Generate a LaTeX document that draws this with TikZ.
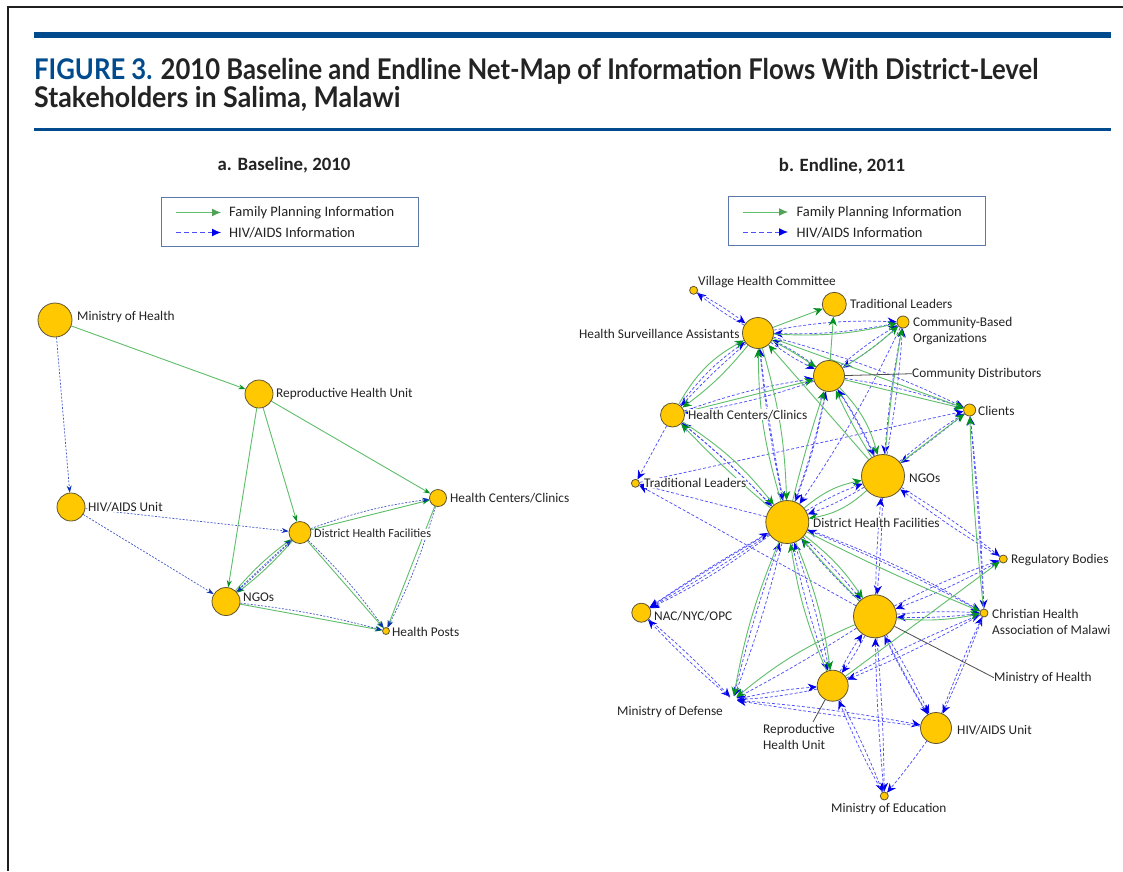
\documentclass[tikz,border=0pt]{standalone}
\usepackage{fontspec}
\setmainfont{Carlito}
\newfontfamily\titlefont[FakeStretch=0.9]{Lato}
\newfontfamily\titlefontb[FakeStretch=0.94]{Lato}
\usetikzlibrary{arrows.meta,backgrounds}
\definecolor{barblue}{RGB}{0,75,141}
\definecolor{nodeyellow}{RGB}{255,200,0}
\definecolor{noderim}{RGB}{95,85,50}
\definecolor{gline}{RGB}{95,190,105}
\definecolor{gtip}{RGB}{0,145,30}
\definecolor{bline}{RGB}{80,80,250}
\definecolor{btip}{RGB}{0,0,235}
\definecolor{bdark}{RGB}{70,90,200}
\definecolor{btipd}{RGB}{10,50,180}
\definecolor{txt}{RGB}{35,35,35}
\definecolor{boxrim}{RGB}{90,120,170}
\tikzset{
 dot/.style={circle,fill=nodeyellow,draw=noderim,line width=.8pt,inner sep=0pt,minimum size=#1 pt},
 lab/.style={anchor=west,inner xsep=0pt,inner ysep=.5pt,fill=white,text=txt,yshift=-.7pt,font=\fontsize{13.3}{15}\selectfont},
 ghead/.style={font=\fontsize{18.8}{20}\selectfont\bfseries,text=txt,inner sep=0pt},
 ge/.style={gline,line width=.9pt,-{Stealth[length=9pt,width=8pt,color=gtip]}},
 be/.style={bline,line width=.75pt,dash pattern=on 3pt off 2pt,-{Stealth[length=9pt,width=8pt,color=btip]}},
 gs/.style={gline,line width=.9pt,-{Stealth[length=7pt,width=5pt,color=gtip]}},
 bs/.style={bdark,line width=.7pt,dash pattern=on 2pt off 1.5pt,-{Stealth[length=7pt,width=5pt,color=btipd]}},
 lg/.style={gline,line width=1pt,-{Latex[length=9pt,width=8pt,color=gline!85!black]}},
 lb/.style={bline,line width=1pt,dash pattern=on 5pt off 3pt,-{Latex[length=9pt,width=8pt,color=btip]}},
 lead/.style={draw=black!70,line width=.8pt},
 legbox/.style={draw=boxrim,line width=1pt,fill=white},
 legtxt/.style={anchor=west,inner sep=0pt,text=txt,yshift=-.7pt,font=\fontsize{14.5}{15}\selectfont}
}
\begin{document}
\begin{tikzpicture}[x=1pt,y=-1pt]
\useasboundingbox (0,0) rectangle (1123,871);
% frame and bars
\fill[black!88] (6.5,5.5) rectangle (1123,7.8);
\fill[black!88] (6.8,5.5) rectangle (9,871);
\fill[barblue] (34,32) rectangle (1111,38);
\fill[barblue] (34,128) rectangle (1111,131);
% title
\node[anchor=base west,inner sep=0pt,text=txt,font=\titlefont\fontsize{28.5}{30}\selectfont\bfseries] (title1) at (34,79) {\textcolor{barblue}{FIGURE 3.} 2010 Baseline and Endline Net-Map of Information Flows With District-Level};
\node[anchor=base west,inner sep=0pt,text=txt,font=\titlefontb\fontsize{28.5}{30}\selectfont\bfseries] (title2) at (34,107) {Stakeholders in Salima, Malawi};
\node[ghead] (heada) at (284,165) {a. Baseline, 2010};
\node[ghead] (headb) at (842,166) {b. Endline, 2011};
% legends
\node[legbox,minimum width=257pt,minimum height=49pt,inner sep=0pt] (lega) at (290,221.5) {};
\node[legbox,minimum width=257pt,minimum height=49pt,inner sep=0pt] (legb) at (857,220.5) {};
\coordinate (la1) at (176,212.5); \coordinate (la2) at (221,212.5);
\coordinate (la3) at (176,232.5); \coordinate (la4) at (221,232.5);
\coordinate (lb1) at (743,212); \coordinate (lb2) at (788,212);
\coordinate (lb3) at (743,232); \coordinate (lb4) at (788,232);
\draw[lg] (la1) -- (la2);
\draw[lb] (la3) -- (la4);
\draw[lg] (lb1) -- (lb2);
\draw[lb] (lb3) -- (lb4);
\node[legtxt] (lat1) at (229,212.5) {Family Planning Information};
\node[legtxt] (lat2) at (229,232.5) {HIV/AIDS Information};
\node[legtxt] (lbt1) at (796.5,212) {Family Planning Information};
\node[legtxt] (lbt2) at (796.5,232) {HIV/AIDS Information};
% ---------- left network nodes
\node[dot=34] (aMOH) at (55,320) {};
\node[dot=28] (aRHU) at (259,394) {};
\node[dot=28] (aHIV) at (71,507) {};
\node[dot=17] (aHCC) at (438,498) {};
\node[dot=22] (aDHF) at (300,532.5) {};
\node[dot=28] (aNGO) at (226,601.5) {};
\node[dot=7] (aHP) at (386,631) {};
\node[lab] (alMOH) at (77,316) {Ministry of Health};
\node[lab] (alRHU) at (276,393) {Reproductive Health Unit};
\node[lab] (alHIV) at (88,506) {HIV/AIDS Unit};
\node[lab] (alHCC) at (450,497) {Health Centers/Clinics};
\node[lab,font=\fontsize{12.3}{15}\selectfont] (alDHF) at (314,533) {District Health Facilities};
\node[lab] (alNGO) at (243,597) {NGOs};
\node[lab] (alHP) at (392,631) {Health Posts};
% ---------- right network nodes
\node[dot=8] (rVHC) at (693.6,290.3) {};
\node[dot=24] (rTLT) at (834.3,304.3) {};
\node[dot=12] (rCBO) at (903,322) {};
\node[dot=31] (rHSA) at (758,333) {};
\node[dot=31] (rCD) at (829,376) {};
\node[dot=24] (rHCC) at (672.5,415) {};
\node[dot=12] (rCLI) at (969.6,410) {};
\node[dot=8] (rTLL) at (635.4,483.3) {};
\node[dot=43] (rNGO) at (883,476) {};
\node[dot=43] (rDHF) at (787.3,522) {};
\node[dot=8] (rREG) at (1003.3,559) {};
\node[dot=19] (rNAC) at (641.3,612.7) {};
\node[dot=8] (rCHA) at (984,613) {};
\node[dot=43] (rMOH) at (875,616.3) {};
\node[circle,inner sep=0pt,minimum size=8pt] (rDEF) at (733,700) {};
\node[dot=31] (rRHU) at (832.7,685.7) {};
\node[dot=31] (rHIV) at (936,728) {};
\node[dot=8] (rEDU) at (884.3,796) {};
\node[lab] (rlVHC) at (698,281) {Village Health Committee};
\node[lab] (rlTLT) at (850,303) {Traditional Leaders};
\node[lab] (rlCBO) at (913,322) {Community-Based};
\node[lab] (rlCBOb) at (913,338) {Organizations};
\node[lab] (rlHSA) at (579,333) {Health Surveillance Assistants};
\node[lab] (rlCD) at (912,373) {Community Distributors};
\node[lab] (rlCLI) at (978,410) {Clients};
\node[lab] (rlHCC) at (688,414) {Health Centers/Clinics};
\node[lab] (rlTLL) at (644,482) {Traditional Leaders};
\node[lab] (rlNGO) at (909,478) {NGOs};
\node[lab] (rlDHF) at (813,522) {District Health Facilities};
\node[lab] (rlREG) at (1011,559) {Regulatory Bodies};
\node[lab] (rlNAC) at (654,615) {NAC/NYC/OPC};
\node[lab] (rlCHA) at (992,613) {Christian Health};
\node[lab] (rlCHAb) at (992,629) {Association of Malawi};
\node[lab] (rlMOH) at (994,677) {Ministry of Health};
\node[lab] (rlDEF) at (617,711) {Ministry of Defense};
\node[lab] (rlRHU) at (763,729) {Reproductive};
\node[lab] (rlRHUb) at (763,744) {Health Unit};
\node[lab] (rlHIV) at (957,729) {HIV/AIDS Unit};
\node[lab] (rlEDU) at (831,808) {Ministry of Education};
\coordinate (rRHUend) at (813,722);
\begin{scope}[on background layer]
\fill[white] (0,0) rectangle (1123,871);
% left edges
\foreach \p/\q/\c in {aMOH/aRHU/0,aRHU/aHCC/0,aRHU/aDHF/0,aRHU/aNGO/0,aDHF/aHCC/0,aDHF/aNGO/5,aNGO/aDHF/6,aDHF/aHP/0,aNGO/aHP/0,aHCC/aHP/0}
  \draw[gs] (\p) to[bend left=\c] (\q);
\foreach \p/\q/\c in {aMOH/aHIV/0,aHIV/aDHF/0,aHIV/aNGO/0,aDHF/aHCC/6,aNGO/aDHF/1,aDHF/aNGO/1,aDHF/aHP/5,aNGO/aHP/4,aHCC/aHP/5}
  \draw[bs] (\p) to[bend left=\c] (\q);
% right blue edges
\foreach \p/\q/\c in {rHSA/rVHC/4,rVHC/rHSA/4,rHSA/rCBO/6,rCBO/rHSA/6,rCD/rCBO/5,rCBO/rCD/5,rNGO/rCBO/-3,rCBO/rNGO/-3,rHSA/rCD/-5,rCD/rHSA/-5,rHSA/rHCC/-3,rHCC/rHSA/9,rHSA/rDHF/-3,rDHF/rHSA/2,rHCC/rCD/5,rCD/rHCC/5,rHCC/rDHF/3,rDHF/rHCC/-3,rHCC/rTLL/0,rCD/rDHF/5,rDHF/rCD/-4,rCD/rNGO/5,rNGO/rCD/-4,rCD/rCLI/5,rCBO/rDHF/4,rHSA/rCLI/5,rDHF/rTLL/0,rMOH/rTLL/0,rTLL/rCLI/0,rDHF/rNGO/5,rNGO/rDHF/5,rNGO/rCLI/4,rCLI/rNGO/1,rNGO/rMOH/2,rMOH/rNGO/2,rNGO/rREG/3,rREG/rNGO/3,rDHF/rCHA/5,rCHA/rDHF/-3,rCHA/rCLI/-1,rCLI/rCHA/2,rDHF/rNAC/2,rNAC/rDHF/2,rDHF/rNAC/-1,rDHF/rNAC/5,rNAC/rDEF/3,rDEF/rNAC/3,rDHF/rDEF/3,rDEF/rDHF/3,rDHF/rRHU/-3,rRHU/rDHF/-3,rDHF/rMOH/3,rMOH/rDHF/3,rMOH/rREG/4,rREG/rMOH/4,rMOH/rCHA/4,rCHA/rMOH/4,rMOH/rRHU/4,rRHU/rMOH/4,rMOH/rHIV/3,rHIV/rMOH/3,rMOH/rHIV/-2,rMOH/rEDU/2,rEDU/rMOH/2,rMOH/rDEF/2,rRHU/rDEF/4,rDEF/rRHU/4,rRHU/rCHA/3,rCHA/rRHU/3,rRHU/rEDU/3,rEDU/rRHU/3,rHIV/rCHA/2,rCHA/rHIV/2,rHIV/rEDU/2,rDEF/rHIV/3,rHIV/rDEF/1}
  \draw[be] (\p) to[bend left=\c] (\q);
% right green edges
\foreach \p/\q/\c in {rHSA/rTLT/0,rCD/rTLT/0,rHSA/rCD/3,rHCC/rCD/0,rHCC/rHSA/16,rHSA/rHCC/7,rDHF/rHSA/8,rHSA/rDHF/7,rDHF/rCD/2,rCD/rNGO/14,rNGO/rCD/3,rNGO/rHSA/0,rNGO/rCBO/2,rCD/rCLI/0,rHSA/rCLI/0,rNGO/rCLI/0,rCHA/rCLI/2,rHCC/rDHF/9,rDHF/rHCC/3,rDHF/rNGO/14,rNGO/rDHF/16,rDHF/rMOH/9,rMOH/rDHF/2,rDHF/rCHA/-2,rDHF/rRHU/7,rRHU/rDHF/7,rRHU/rREG/0,rHSA/rCBO/-8,rCD/rCBO/-5,rMOH/rCHA/-8,rMOH/rDEF/-8,rDHF/rDEF/-6}
  \draw[ge] (\p) to[bend left=\c] (\q);
% leaders
\draw[lead] (rCD) -- (rlCD.west);
\draw[lead] (rMOH) -- (rlMOH.west);
\draw[lead] (rRHU) -- (rRHUend);
\end{scope}
\end{tikzpicture}
\end{document}
